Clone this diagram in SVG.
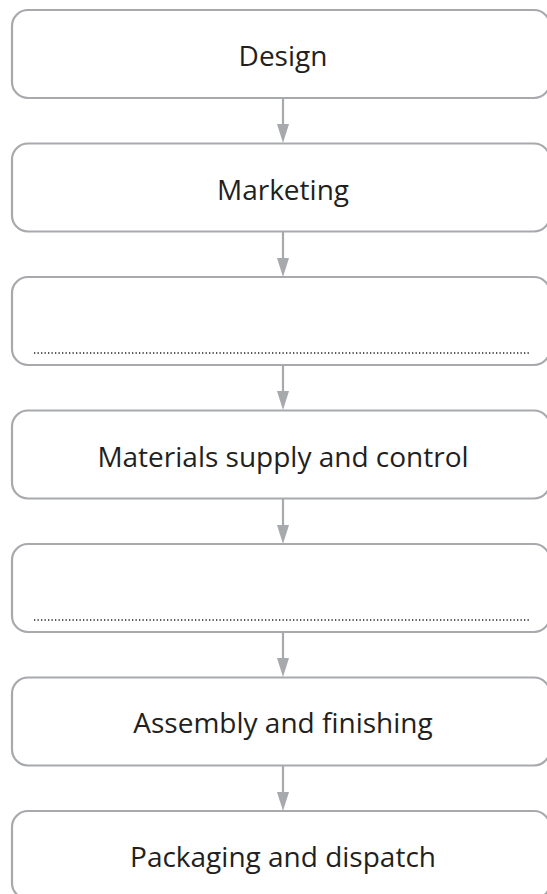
<svg xmlns="http://www.w3.org/2000/svg" width="547" height="894" viewBox="0 0 547 894">
<defs>
<style>
.box{fill:#fff;stroke:#a7a9ac;stroke-width:2.2}
.lbl{font-family:"Open Sans","Noto Sans",sans-serif;font-size:28px;fill:#231f20;text-anchor:middle}
.dots{stroke:#231f20;stroke-width:1.3;stroke-dasharray:1.3 2.2}
.conn{stroke:#a7a9ac;stroke-width:2.2;fill:none}
.head{fill:#a7a9ac}
</style>
</defs>
<rect width="547" height="894" fill="#fff"/>
<g id="connectors">
<line class="conn" x1="283" y1="98" x2="283" y2="128"/><polygon class="head" points="277,124 289,124 283,143"/>
<line class="conn" x1="283" y1="231" x2="283" y2="262"/><polygon class="head" points="277,258 289,258 283,277"/>
<line class="conn" x1="283" y1="365" x2="283" y2="395"/><polygon class="head" points="277,391 289,391 283,410"/>
<line class="conn" x1="283" y1="498" x2="283" y2="529"/><polygon class="head" points="277,525 289,525 283,544"/>
<line class="conn" x1="283" y1="632" x2="283" y2="662"/><polygon class="head" points="277,658 289,658 283,677"/>
<line class="conn" x1="283" y1="765" x2="283" y2="796"/><polygon class="head" points="277,792 289,792 283,811"/>
</g>
<g id="design"><rect class="box" x="12" y="10" width="538" height="88" rx="16"/><text class="lbl" x="283" y="66">Design</text></g>
<g id="marketing"><rect class="box" x="12" y="143.5" width="538" height="88" rx="16"/><text class="lbl" x="283" y="200">Marketing</text></g>
<g id="blank1"><rect class="box" x="12" y="277" width="538" height="88" rx="16"/><line class="dots" x1="34" y1="353" x2="529" y2="353"/></g>
<g id="materials"><rect class="box" x="12" y="410.5" width="538" height="88" rx="16"/><text class="lbl" x="283" y="467">Materials supply and control</text></g>
<g id="blank2"><rect class="box" x="12" y="544" width="538" height="88" rx="16"/><line class="dots" x1="34" y1="620" x2="529" y2="620"/></g>
<g id="assembly"><rect class="box" x="12" y="677.5" width="538" height="88" rx="16"/><text class="lbl" x="283" y="733">Assembly and finishing</text></g>
<g id="packaging"><rect class="box" x="12" y="811" width="538" height="88" rx="16"/><text class="lbl" x="283" y="867">Packaging and dispatch</text></g>
</svg>
